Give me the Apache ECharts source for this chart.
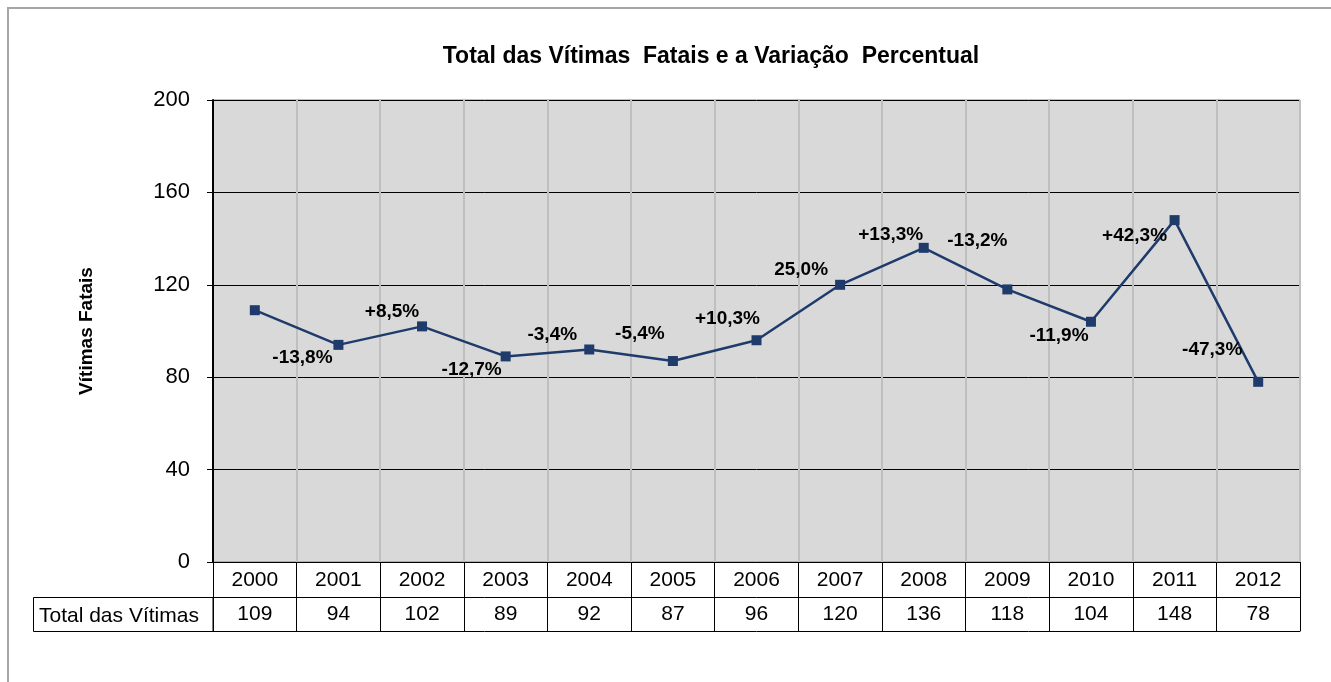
<!DOCTYPE html>
<html>
<head>
<meta charset="utf-8">
<script src="https://cdn.jsdelivr.net/npm/echarts@6/dist/echarts.min.js"></script>
<style>
html,body{margin:0;padding:0;background:#fff;}
#c{width:1331px;height:682px;}
</style>
</head>
<body>
<div id="c"></div>
<script>
const years = ['2000','2001','2002','2003','2004','2005','2006','2007','2008','2009','2010','2011','2012'];
const victims = [109, 94, 102, 89, 92, 87, 96, 120, 136, 118, 104, 148, 78];
const pctLabels = ['', '-13,8%', '+8,5%', '-12,7%', '-3,4%', '-5,4%', '+10,3%', '25,0%', '+13,3%', '-13,2%', '-11,9%', '+42,3%', '-47,3%'];
const yTicks = [0, 40, 80, 120, 160, 200];
const tableRowLabel = 'Total das Vítimas';

const labelOffsets = [[0,0],[-36,13],[-30,-15],[-34,13],[-37,-15],[-33,-27],[-29,-21],[-39,-15],[-33,-13],[-30,-49],[-32,14],[-40,16],[-46,-32]];

const FONT = 'Liberation Sans, Arial, sans-serif';
const chart = echarts.init(document.getElementById('c'));

const gridL = 213, gridR = 31, gridT = 100, gridB = 120;
const rowH = 35;

chart.setOption({
  animation: false,
  backgroundColor: '#fff',
  textStyle: { fontFamily: FONT, color: '#000' },
  title: {
    text: 'Total das Vítimas  Fatais e a Variação  Percentual',
    left: 706, top: 40, textAlign: 'center',
    textStyle: { fontFamily: FONT, fontSize: 23, fontWeight: 'bold', color: '#000' }
  },
  grid: {
    left: gridL, right: gridR, top: gridT, bottom: gridB,
    show: true, backgroundColor: '#D9D9D9', borderColor: '#808080', borderWidth: 1
  },
  xAxis: [
    {
      type: 'category', data: years, position: 'bottom', boundaryGap: true,
      axisLine: { show: true, lineStyle: { color: '#000', width: 1 } },
      axisTick: { show: true, length: rowH, interval: 0, lineStyle: { color: '#000', width: 1 } },
      axisLabel: { fontFamily: FONT, fontSize: 21, color: '#000', margin: 8, interval: 0 },
      splitLine: { show: true, interval: 0, lineStyle: { color: '#BFBFBF', width: 2 } }
    },
    {
      type: 'category', data: victims.map(String), position: 'bottom', offset: rowH, boundaryGap: true,
      axisLine: { show: true, lineStyle: { color: '#000', width: 1 } },
      axisTick: { show: true, length: rowH - 1, interval: 0, lineStyle: { color: '#000', width: 1 } },
      axisLabel: { fontFamily: FONT, fontSize: 21, color: '#000', margin: 7, interval: 0 },
      name: tableRowLabel, nameLocation: 'start', nameGap: 174,
      nameTextStyle: { fontFamily: FONT, fontSize: 21, color: '#000', align: 'left', verticalAlign: 'top', padding: [9, 0, 0, 0] },
      splitLine: { show: false }
    },
    {
      type: 'category', data: years, position: 'bottom', offset: rowH * 2 - 1, boundaryGap: true,
      axisLine: { show: true, lineStyle: { color: '#000', width: 1 } },
      axisTick: { show: false }, axisLabel: { show: false }, splitLine: { show: false }
    }
  ],
  yAxis: {
    type: 'value', min: yTicks[0], max: yTicks[yTicks.length - 1], interval: 40,
    name: 'Vítimas Fatais', nameLocation: 'middle', nameGap: 117, nameRotate: 90,
    nameTextStyle: { fontFamily: FONT, fontSize: 19, fontWeight: 'bold', color: '#000' },
    axisLine: { show: true, lineStyle: { color: '#000', width: 2 } },
    axisTick: { show: true, length: 6, lineStyle: { color: '#000' } },
    axisLabel: { fontFamily: FONT, fontSize: 22, color: '#000', margin: 23 },
    splitLine: { show: true, lineStyle: { color: '#000', width: 1 } }
  },
  series: [{
    type: 'line', xAxisIndex: 0,
    data: victims.map((v, i) => ({
      value: v,
      label: {
        show: pctLabels[i] !== '',
        formatter: pctLabels[i],
        position: 'inside',
        offset: labelOffsets[i]
      }
    })),
    symbol: 'rect', symbolSize: 10,
    lineStyle: { color: '#1F3B6B', width: 2.5 },
    itemStyle: { color: '#1F3B6B' },
    label: { fontFamily: FONT, fontSize: 19, fontWeight: 'bold', color: '#000' },
    z: 5
  }],
  graphic: [
    { type: 'rect', z: -10, silent: true, shape: { x: 8, y: 8, width: 1400, height: 800 },
      style: { fill: 'none', stroke: '#A6A6A6', lineWidth: 2 } },
    { type: 'rect', silent: true, shape: { x: 33.5, y: 682 - gridB + rowH + 0.5, width: gridL - 33.5, height: rowH - 1 },
      style: { fill: 'none', stroke: '#000', lineWidth: 1 } }
  ]
});
</script>
</body>
</html>
